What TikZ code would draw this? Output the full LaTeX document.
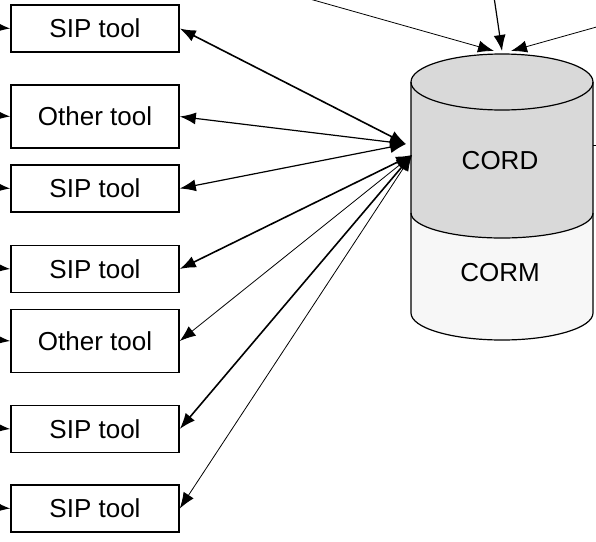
\documentclass[tikz,border=0pt]{standalone}
\usepackage{fontspec}
\setmainfont{Liberation Sans}
\usetikzlibrary{arrows.meta}

\definecolor{cordgray}{HTML}{D9D9D9}
\definecolor{cormgray}{HTML}{F7F7F7}

\begin{document}
\begin{tikzpicture}[x=1pt, y=1pt, >={Latex[length=16pt,width=12pt]}]
	\tikzstyle{tool} = [draw, line width=1.6pt, rectangle, minimum width=168pt, inner sep=0pt, font=\fontsize{26}{31}\selectfont]
	\tikzstyle{sip} = [tool, minimum height=47pt]
	\tikzstyle{other} = [tool, minimum height=63pt]
	\tikzstyle{heavy} = [line width=1.6pt]
	\tikzstyle{medium} = [line width=1.2pt]
	\tikzstyle{light} = [line width=0.8pt]

	\useasboundingbox (0,0) rectangle (596,-541);
	\clip (0,0) rectangle (596,-541);

	% the store
	\fill[cordgray] (411,-82) -- (411,-213) arc[start angle=180, end angle=360, x radius=91, y radius=25] -- (593,-82) -- cycle;
	\fill[cormgray] (411,-213) -- (411,-313) arc[start angle=180, end angle=360, x radius=91, y radius=27] -- (593,-213) arc[start angle=0, end angle=-180, x radius=91, y radius=25] -- cycle;
	\draw[medium, fill=cordgray] (502,-82) ellipse[x radius=91, y radius=28];
	\draw[medium] (411,-82) -- (411,-313) arc[start angle=180, end angle=360, x radius=91, y radius=27] -- (593,-82);
	\draw[medium] (411,-213) arc[start angle=180, end angle=360, x radius=91, y radius=25];

	\draw (500,-161) node[font=\fontsize{26}{31}\selectfont] (cord) {CORD};
	\draw (500,-273) node[font=\fontsize{26}{31}\selectfont] (corm) {CORM};

	\coordinate (hubA) at (406,-144);
	\coordinate (hubB) at (412,-155);
	\coordinate (top1) at (494,-51);
	\coordinate (top2) at (502,-51);
	\coordinate (top3) at (511,-51);
	\coordinate (east1) at (593,-145);

	% tools
	\draw (95,-28.5) node[sip] (t1) {SIP tool};
	\draw (95,-116.5) node[other] (t2) {Other tool};
	\draw (95,-188.5) node[sip] (t3) {SIP tool};
	\draw (95,-269) node[sip] (t4) {SIP tool};
	\draw (95,-341) node[other] (t5) {Other tool};
	\draw (95,-429) node[sip] (t6) {SIP tool};
	\draw (95,-508.5) node[sip] (t7) {SIP tool};

	% ends beyond the frame
	\coordinate (in1) at (-80,-20);
	\coordinate (in2) at (-80,-108);
	\coordinate (in3) at (-80,-180);
	\coordinate (in4) at (-80,-260);
	\coordinate (in5) at (-80,-332);
	\coordinate (in6) at (-80,-420);
	\coordinate (in7) at (-80,-500);
	\coordinate (up1) at (207,30);
	\coordinate (up2) at (490,30);
	\coordinate (up3) at (650,-12);
	\coordinate (out1) at (650,-145);

	\draw[->, medium] (in1) -- (t1.west);
	\draw[->, medium] (in2) -- (t2.west);
	\draw[->, medium] (in3) -- (t3.west);
	\draw[->, medium] (in4) -- (t4.west);
	\draw[->, medium] (in5) -- (t5.west);
	\draw[->, medium] (in6) -- (t6.west);
	\draw[->, medium] (in7) -- (t7.west);

	\draw[<->, heavy] (t1.east) -- (hubA);
	\draw[<->, medium] (t2.east) -- (hubA);
	\draw[<->, medium] (t3.east) -- (hubA);
	\draw[<->, heavy] (t4.east) -- (hubB);
	\draw[<->, light] (t5.east) -- (hubB);
	\draw[<->, heavy] (t6.east) -- (hubB);
	\draw[<->, light] (t7.east) -- (hubB);

	\draw[->, light] (up1) -- (top1);
	\draw[->, medium] (up2) -- (top2);
	\draw[->, light] (up3) -- (top3);
	\draw[light] (east1) -- (out1);
\end{tikzpicture}
\end{document}
